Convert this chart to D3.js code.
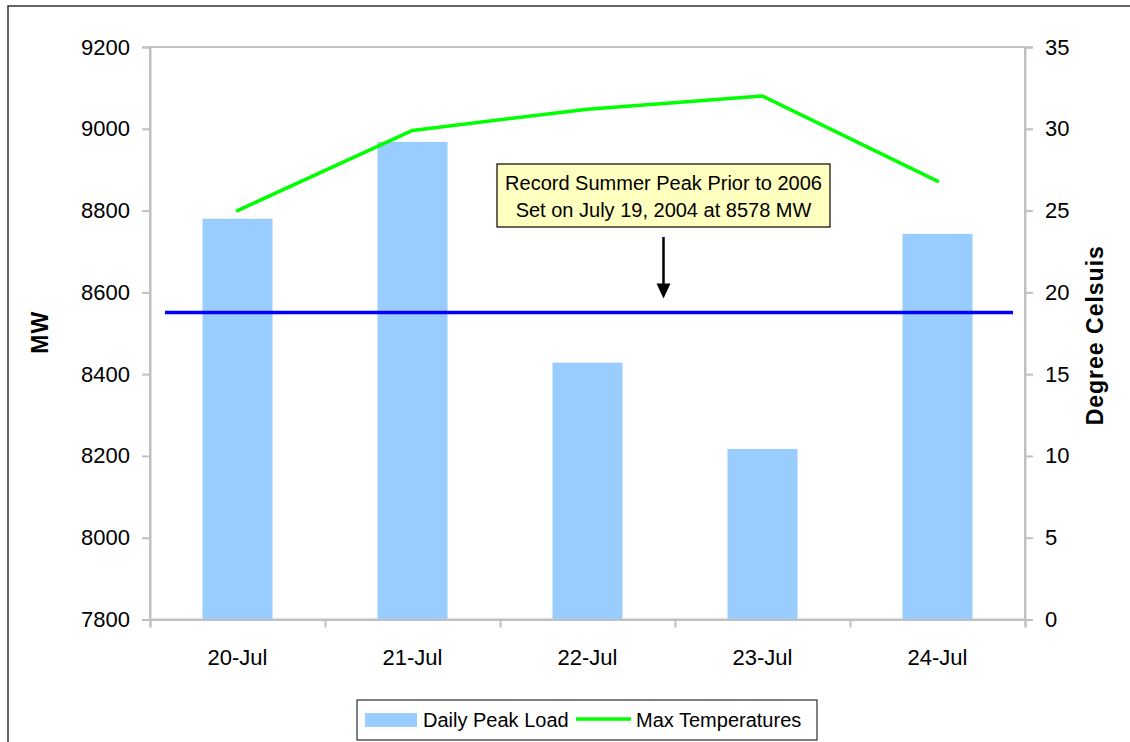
<!DOCTYPE html>
<html>
<head>
<meta charset="utf-8">
<script src="https://cdn.jsdelivr.net/npm/d3@7"></script>
<style>
  body { margin: 0; background: #fff; }
  text { font-family: "Liberation Sans", Arial, sans-serif; }
</style>
</head>
<body>
<div id="chart"></div>
<script>
// data
var days = ["20-Jul", "21-Jul", "22-Jul", "23-Jul", "24-Jul"];
var peakLoad = [8780, 8968, 8428, 8217, 8743];
var maxTemp = [25.0, 29.9, 31.2, 32.0, 26.8];
var loadTicks = [7800, 8000, 8200, 8400, 8600, 8800, 9000, 9200];
var tempTicks = [0, 5, 10, 15, 20, 25, 30, 35];
var recordLoad = 8551;
var noteLines = ["Record Summer Peak Prior to 2006", "Set on July 19, 2004 at 8578 MW"];
var legendNames = ["Daily Peak Load", "Max Temperatures"];

function drawChart() {
    var W = 1130, H = 742;
    var margin = {top: 47, right: 105, bottom: 122.5, left: 150};
    var width = W - margin.left - margin.right;
    var height = H - margin.top - margin.bottom;
    var grey = "#c0c0c0";

    var svg = d3.select("#chart").append("svg")
        .attr("width", W)
        .attr("height", H);

    // outer chart border (only top/left visible in the crop)
    svg.append("rect")
        .attr("x", 8).attr("y", 6)
        .attr("width", W + 20).attr("height", H + 20)
        .attr("fill", "none")
        .attr("stroke", "#333")
        .attr("stroke-width", 1.5);

    var g = svg.append("g")
        .attr("transform", "translate(" + margin.left + "," + margin.top + ")");

    var xScale = d3.scaleBand()
        .domain(days)
        .range([0, width]);

    var xLin = d3.scaleLinear()
        .domain([0, days.length])
        .range([0, width]);

    var yLoad = d3.scaleLinear()
        .domain([7800, 9200])
        .range([height, 0]);

    var yTemp = d3.scaleLinear()
        .domain([0, 35])
        .range([height, 0]);

    // plot area frame
    g.append("rect")
        .attr("width", width).attr("height", height)
        .attr("fill", "none")
        .attr("stroke", grey)
        .attr("stroke-width", 2);

    // bars
    var barW = xScale.bandwidth() * 0.4;
    g.selectAll(".bar")
        .data(peakLoad)
        .enter().append("rect")
        .attr("class", "bar")
        .attr("x", function(d, i) { return xScale(days[i]) + (xScale.bandwidth() - barW) / 2; })
        .attr("y", function(d) { return yLoad(d); })
        .attr("width", barW)
        .attr("height", function(d) { return height - yLoad(d); })
        .attr("fill", "#99ccff");

    // axes
    var xAxis = g.append("g")
        .attr("transform", "translate(0," + height + ")")
        .call(d3.axisBottom(xLin).tickValues(d3.range(days.length + 1)).tickSize(8).tickFormat(""));

    g.append("g")
        .attr("transform", "translate(0," + height + ")")
        .selectAll("text")
        .data(days)
        .enter().append("text")
        .attr("x", function(d) { return xScale(d) + xScale.bandwidth() / 2; })
        .attr("y", 45)
        .attr("text-anchor", "middle")
        .style("font-size", "22px")
        .text(function(d) { return d; });

    var leftAxis = g.append("g")
        .call(d3.axisLeft(yLoad).tickValues(loadTicks).tickSize(8).tickPadding(12).tickFormat(d3.format("d")));

    var rightAxis = g.append("g")
        .attr("transform", "translate(" + width + ",0)")
        .call(d3.axisRight(yTemp).tickValues(tempTicks).tickSize(8).tickPadding(12));

    [xAxis, leftAxis, rightAxis].forEach(function(a) {
        a.select(".domain").attr("stroke", grey).attr("stroke-width", 2);
        a.selectAll(".tick line").attr("stroke", grey).attr("stroke-width", 2);
        a.selectAll(".tick text")
            .attr("fill", "#000")
            .style("font-size", "22px")
            .style("font-family", "'Liberation Sans', Arial, sans-serif");
    });

    // axis titles
    g.append("text")
        .attr("transform", "rotate(-90)")
        .attr("x", -height / 2 + 1)
        .attr("y", -102)
        .attr("text-anchor", "middle")
        .style("font-size", "23px")
        .style("letter-spacing", "1px")
        .style("font-weight", "bold")
        .text("MW");

    g.append("text")
        .attr("transform", "rotate(-90)")
        .attr("x", -height / 2 - 2)
        .attr("y", width + 78)
        .attr("text-anchor", "middle")
        .style("font-size", "23px")
        .style("letter-spacing", "1px")
        .style("font-weight", "bold")
        .text("Degree Celsuis");

    // record peak line
    g.append("line")
        .attr("x1", xLin(0) + 15)
        .attr("x2", xLin(days.length) - 12)
        .attr("y1", yLoad(recordLoad))
        .attr("y2", yLoad(recordLoad))
        .attr("stroke", "#0000ff")
        .attr("stroke-width", 3.5);

    // temperature line
    var tempLine = d3.line()
        .x(function(d, i) { return xScale(days[i]) + xScale.bandwidth() / 2; })
        .y(function(d) { return yTemp(d); });

    g.append("path")
        .datum(maxTemp)
        .attr("d", tempLine)
        .attr("fill", "none")
        .attr("stroke", "#00ff00")
        .attr("stroke-width", 3.5)
        .attr("stroke-linejoin", "round")
        .attr("stroke-linecap", "round");

    // annotation box
    var noteX = 513.5, noteY = 117, noteW = 333, noteH = 63;
    var note = g.append("g").attr("transform", "translate(" + noteX + "," + noteY + ")");
    note.append("rect")
        .attr("x", -noteW / 2).attr("y", 0)
        .attr("width", noteW).attr("height", noteH)
        .attr("fill", "#ffffc0")
        .attr("stroke", "#000")
        .attr("stroke-width", 1.2);
    note.selectAll(".nt")
        .data(noteLines)
        .enter().append("text")
        .attr("class", "nt")
        .attr("x", 0)
        .attr("y", function(d, i) { return 26 + i * 27; })
        .attr("text-anchor", "middle")
        .style("font-size", "20px")
        .text(function(d) { return d; });

    // arrow to the record line
    g.append("line")
        .attr("x1", noteX).attr("x2", noteX)
        .attr("y1", noteY + noteH + 10)
        .attr("y2", yLoad(recordLoad) - 26)
        .attr("stroke", "#000")
        .attr("stroke-width", 2.5);
    var tipY = yLoad(recordLoad) - 14;
    g.append("path")
        .attr("d", "M" + (noteX - 7) + "," + (tipY - 15) + "L" + (noteX + 7) + "," + (tipY - 15) + "L" + noteX + "," + tipY + "Z")
        .attr("fill", "#000");

    // legend
    var legend = svg.append("g").attr("transform", "translate(357,700)");
    legend.append("rect")
        .attr("width", 460).attr("height", 40)
        .attr("fill", "#fff")
        .attr("stroke", "#000")
        .attr("stroke-width", 1);
    legend.append("rect")
        .attr("x", 8).attr("y", 13)
        .attr("width", 52).attr("height", 14)
        .attr("fill", "#99ccff");
    legend.append("text")
        .attr("x", 66).attr("y", 27)
        .style("font-size", "20px")
        .text(legendNames[0]);
    legend.append("line")
        .attr("x1", 219).attr("x2", 274)
        .attr("y1", 19).attr("y2", 19)
        .attr("stroke", "#00ff00")
        .attr("stroke-width", 3.5);
    legend.append("text")
        .attr("x", 279).attr("y", 27)
        .style("font-size", "20px")
        .text(legendNames[1]);
}

drawChart();
</script>
</body>
</html>
